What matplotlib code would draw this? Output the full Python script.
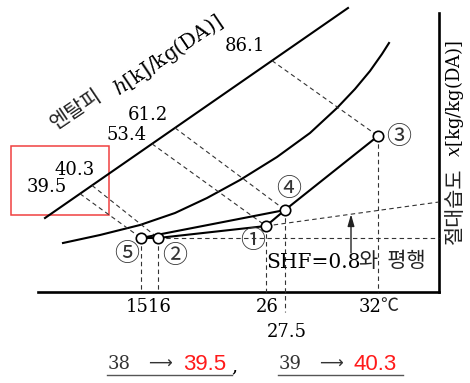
import numpy as np
import matplotlib.pyplot as plt

plt.rcParams['mathtext.fontset'] = 'dejavuserif'

# schematic chart units (x to the right, y downward, same size as the picture)
state_marks = ['①', '②', '③', '④', '⑤']
state_x = [266, 158, 378, 285, 141]
state_y = [226, 238, 136, 210, 238]
mark_x = [253, 175, 399, 289, 127]
mark_y = [241, 256, 137, 189, 254]

# process lines as index pairs into the state lists
process = [(1, 0), (0, 3), (3, 2), (4, 3), (4, 1)]

hline_x = [45, 348]
hline_y = [218, 8]
h_vals = ['53.4', '40.3', '86.1', '61.2', '39.5']
h_start_x = [152, 92, 272, 175, 80]
h_lab_x = [127, 75, 245, 148, 47]
h_lab_y = [135, 170, 46, 115, 187]

# saturation curve
sat_x = [63, 100, 140, 175, 207, 240, 277, 310, 337, 355, 370, 382, 389]
sat_y = [243, 235, 225, 213, 198, 180, 157, 133, 108, 89, 71, 54, 43]

# dry bulb temperatures
temps = ['26', '16', '32', '27.5', '15']

base_y = 292
right_x = 439

serif = ['DejaVu Serif', 'Noto Sans CJK KR']
kor = ['Noto Sans CJK KR']
dash = dict(color='#333', lw=0.8, ls=(0, (4, 3)))

fig = plt.figure(figsize=(4.7, 3.83), dpi=100)
ax = fig.add_axes([0, 0, 1, 1])
ax.set_xlim(0, 470)
ax.set_ylim(383, 0)
ax.axis('off')

# frame
ax.plot([38, right_x], [base_y, base_y], color='black', lw=1.9)
ax.plot([right_x, right_x], [13, base_y], color='black', lw=1.9)

# enthalpy line + saturation curve
ax.plot(hline_x, hline_y, color='black', lw=1.5)
ax.plot(sat_x, sat_y, color='black', lw=1.5)

# enthalpy dashed guides and labels
for i in range(len(state_x)):
    hy = np.interp(h_start_x[i], hline_x, hline_y)
    ax.plot([h_start_x[i], state_x[i]], [hy, state_y[i]], **dash)
    ax.text(h_lab_x[i], h_lab_y[i], h_vals[i], fontsize=13, family=serif,
            ha='center', va='center')

# vertical dashed guides to the temperature axis
for i in range(len(state_x)):
    bottom = 312 if temps[i] == '27.5' else base_y
    ax.plot([state_x[i], state_x[i]], [state_y[i], bottom], **dash)

# horizontal guide from state 2, SHF line from state 1
ax.plot([state_x[1], right_x], [state_y[1], state_y[1]], **dash)
shf_y_end = 202
ax.plot([state_x[0], right_x], [state_y[0], shf_y_end], **dash)
arr_x = 351
arr_tip = state_y[0] + (shf_y_end - state_y[0]) * (arr_x - state_x[0]) / (right_x - state_x[0])
ax.annotate('', xy=(arr_x, arr_tip), xytext=(arr_x, 253),
            arrowprops=dict(arrowstyle='-|>,head_length=0.7,head_width=0.2',
                            color='#222', lw=1.0, shrinkA=0, shrinkB=0))
ax.text(266, 262, 'SHF=0.8', fontsize=14.5, family=serif,
        ha='left', va='center')
ax.text(359, 261, '와  평행', fontsize=15, family=kor, color='#222',
        ha='left', va='center')

# process lines
for a, b in process:
    ax.plot([state_x[a], state_x[b]], [state_y[a], state_y[b]],
            color='black', lw=1.5, zorder=3)
ax.plot(state_x, state_y, 'o', ms=7.5, mfc='white', mec='black', mew=1.2, zorder=4)
for i in range(len(state_x)):
    ax.text(mark_x[i], mark_y[i], state_marks[i], fontsize=18,
            family=kor, color='#333', ha='center', va='center')

# temperature labels
ax.text((state_x[4] + state_x[1]) / 2 - 1, 307, temps[4] + temps[1], fontsize=13,
        family=serif, ha='center', va='center')
ax.text(state_x[0] + 1, 307, temps[0], fontsize=13, family=serif, ha='center', va='center')
ax.text(359, 307, temps[2], fontsize=13, family=serif, ha='left', va='center')
ax.text(380, 306, '℃', fontsize=13, family=kor, color='#222', ha='left', va='center')
ax.text(state_x[3] + 2, 332, temps[3], fontsize=13, family=serif, ha='center', va='center')

# axis titles
ax.text(76, 109, '엔탈피', fontsize=15, family=kor, color='#222',
        rotation=34, rotation_mode='anchor', ha='center', va='center')
ax.text(168, 55, '$h$[kJ/kg(DA)]', fontsize=14.5, family=serif,
        rotation=34, rotation_mode='anchor', ha='center', va='center')
ax.text(455, 206, '절대습도', fontsize=15, family=kor, color='#222',
        rotation=90, ha='center', va='center')
ax.text(455, 99, '$x$[kg/kg(DA)]', fontsize=13, family=serif,
        rotation=90, ha='center', va='center')

# red highlight box
ax.add_patch(plt.Rectangle((11, 146), 98, 69, fill=False, ec='#f04040', lw=1.1))

# corrections below
old_vals = ['38', '39']
new_vals = ['39.5', '40.3']
corr_x = [108, 279]
for i in range(2):
    x0 = corr_x[i]
    ax.text(x0, 364, old_vals[i], fontsize=13, family=serif, color='#333',
            ha='left', va='center')
    ax.text(x0 + 52, 364, '⟶', fontsize=12, family=['DejaVu Sans'], color='#333',
            ha='center', va='center')
    ax.text(x0 + 75, 364, new_vals[i], fontsize=16, family=['Liberation Sans'],
            color='#ff1a1a', ha='left', va='center')
    ax.plot([x0 - 1, x0 + 124], [375, 375], color='#555', lw=1.0)
ax.text(231, 366, ',', fontsize=14, family=serif, ha='left', va='center')

fig.savefig('out.png', dpi=100)
